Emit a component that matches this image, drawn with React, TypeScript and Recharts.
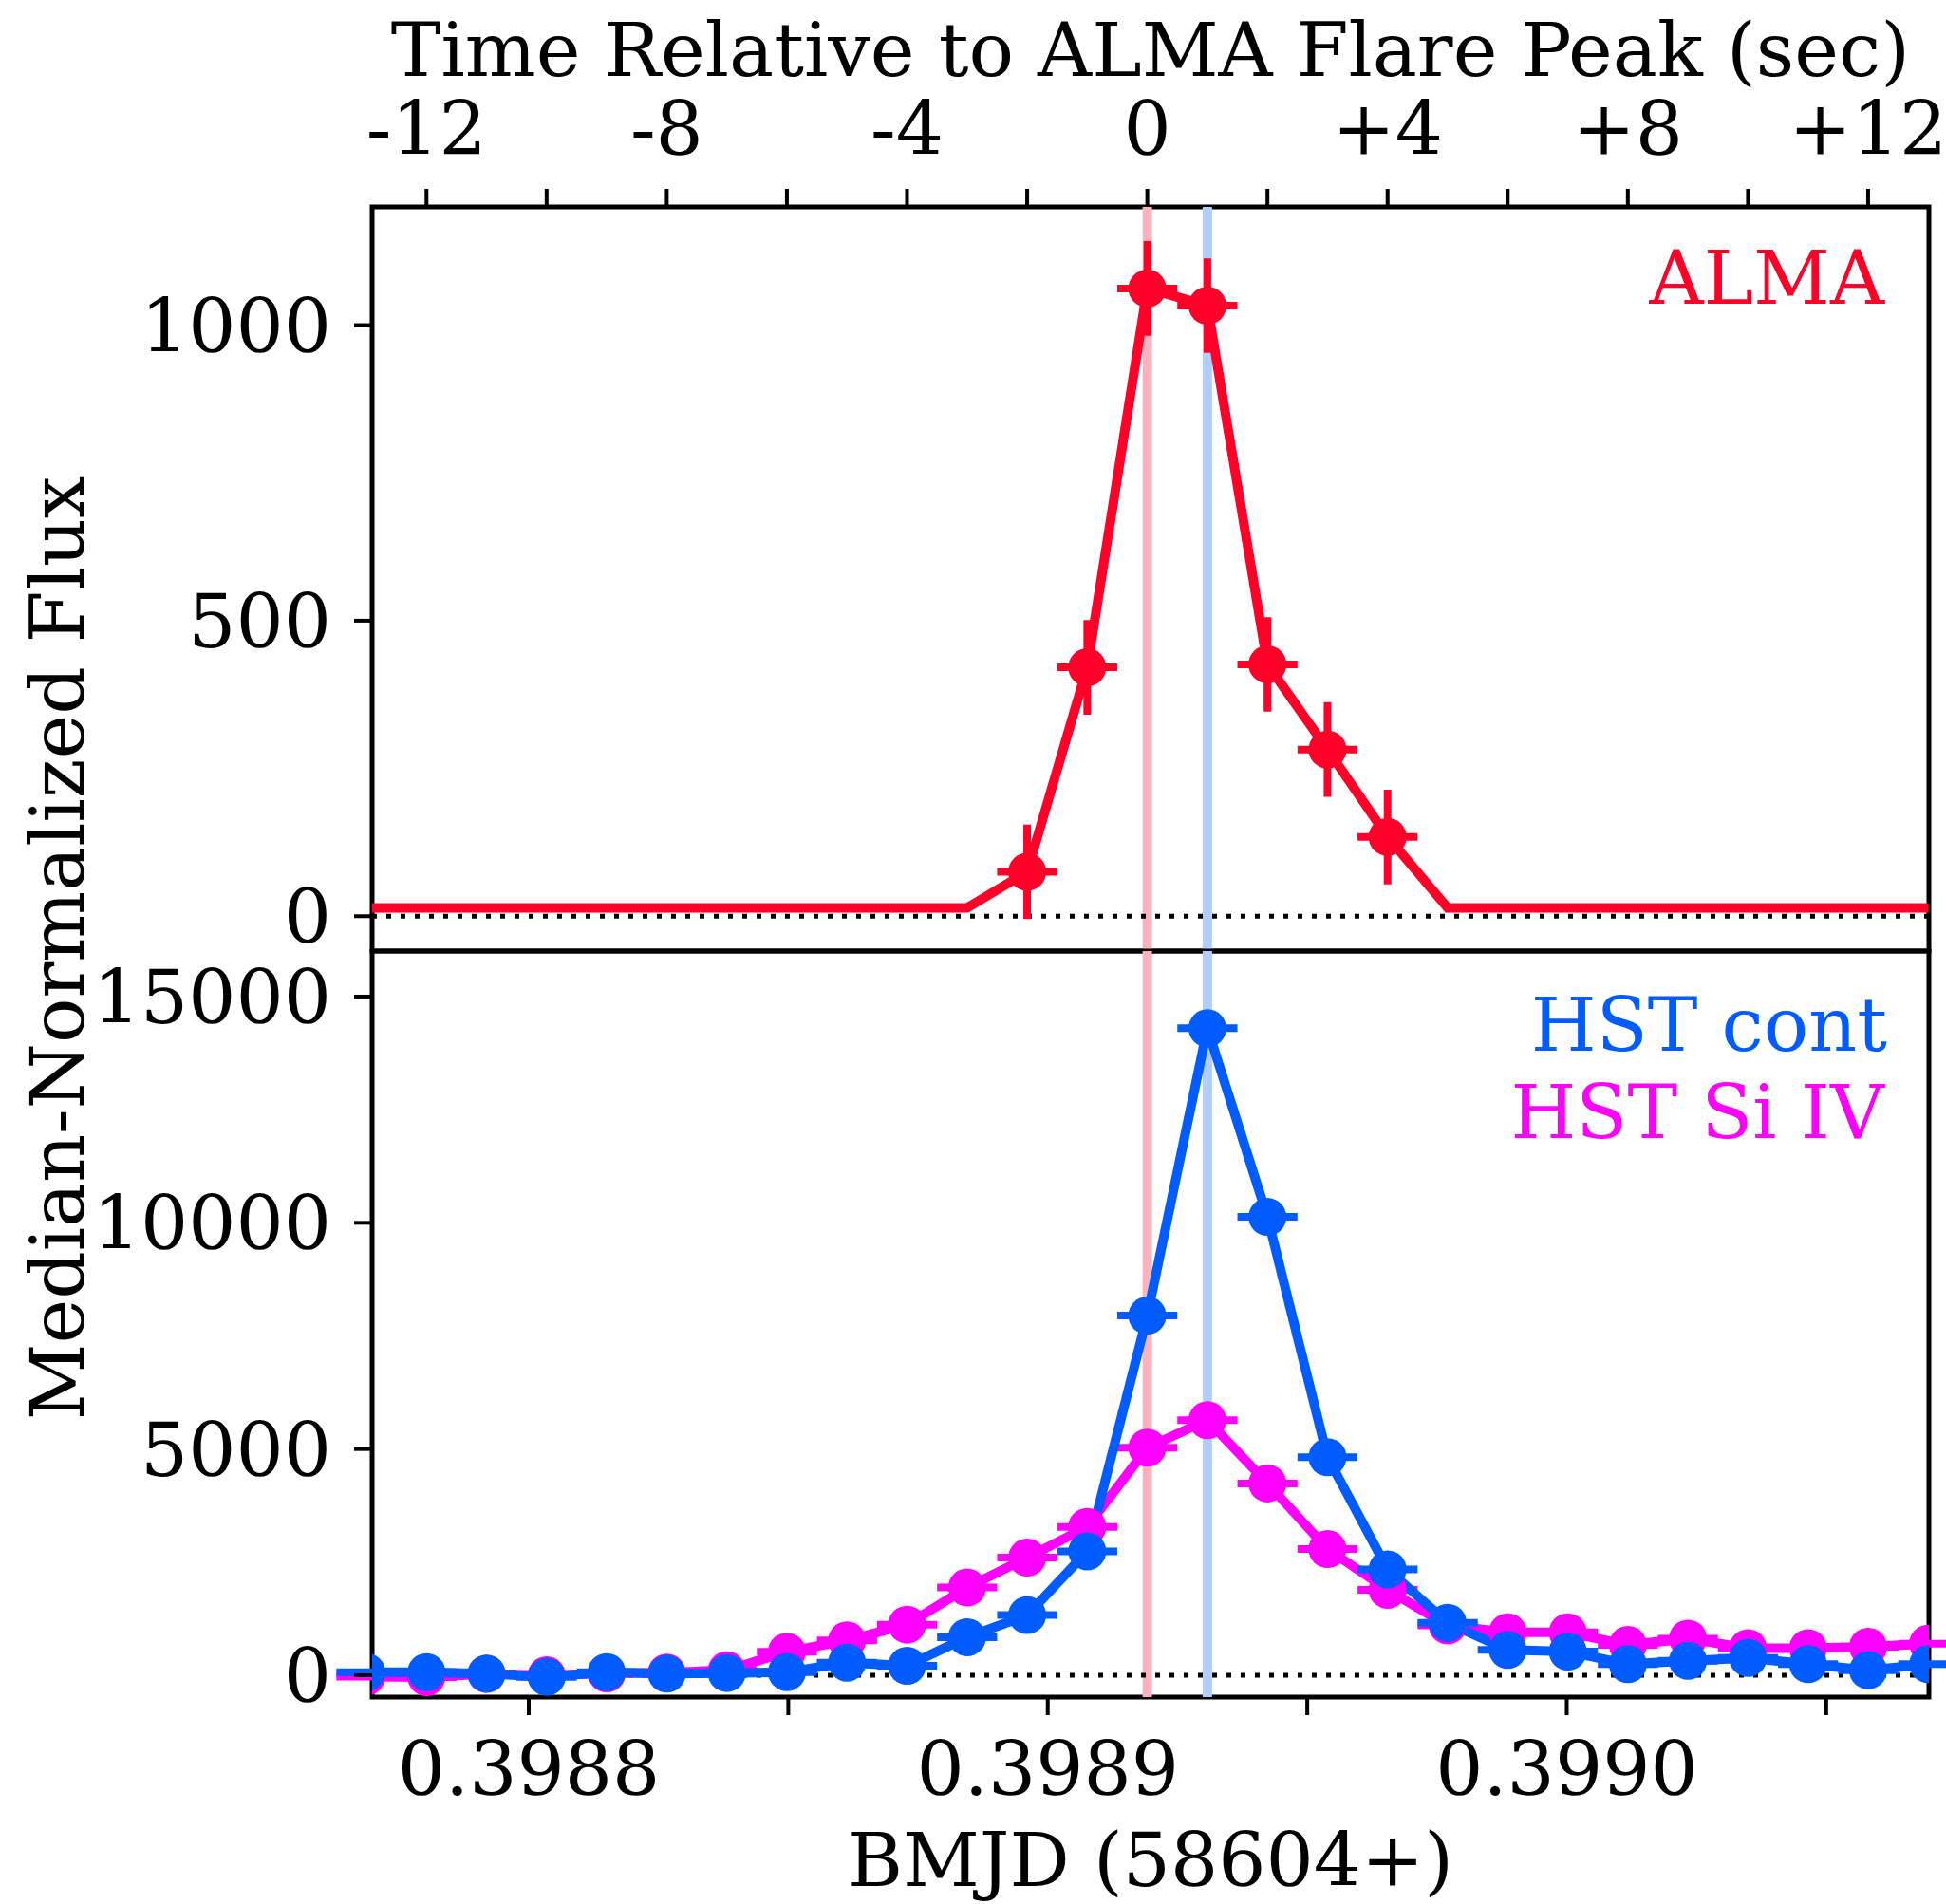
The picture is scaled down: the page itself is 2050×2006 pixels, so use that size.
import React from 'react';
import {
  ComposedChart,
  Line,
  Scatter,
  XAxis,
  YAxis,
  ReferenceLine,
  ReferenceArea,
  ErrorBar,
} from 'recharts';

const FONT = '"DejaVu Serif", serif';
const RED = '#ff0028';
const BLUE = '#005cff';
const MAGENTA = '#ff00ff';
const PINK_LINE = '#fab4bf';
const BLUE_LINE = '#b0cfff';
const FS = 79;

// seconds relative to the ALMA flare peak, 1 s cadence
const times = [-13, -12, -11, -10, -9, -8, -7, -6, -5, -4, -3, -2, -1, 0, 1, 2, 3, 4, 5, 6, 7, 8, 9, 10, 11, 12, 13];

const almaFlux = [14, 14, 14, 14, 14, 14, 14, 14, 14, 14, 14, 75, 421, 1062, 1033, 426, 282, 134, 14, 14, 14, 14, 14, 14, 14, 14, 14];
const almaPeakTimes = [-2, -1, 0, 1, 2, 3, 4];
const almaErr = 80;

const hstCont = [70, 70, 35, -35, 70, 35, 50, 70, 280, 210, 840, 1330, 2740, 7950, 14300, 10130, 4820, 2340, 1160, 560, 525, 245, 320, 385, 245, 110, 245];
const hstSiIV = [-30, -40, 30, 0, 40, 60, 110, 520, 770, 1120, 1940, 2600, 3280, 5030, 5640, 4240, 2790, 1890, 1100, 950, 950, 670, 810, 600, 600, 630, 700];
const timeErr = 0.5; // seconds

// markers for the ALMA peak and the HST continuum peak
const almaPeakSec = 0;
const hstPeakSec = 1;

const topTicks = [-12, -10, -8, -6, -4, -2, 0, 2, 4, 6, 8, 10, 12];
const bmjdTicks = [0.3988, 0.39885, 0.3989, 0.39895, 0.399, 0.39905];
const almaYTicks = [0, 500, 1000];
const hstYTicks = [0, 5000, 10000, 15000];

const t0Bmjd = 0.39891918;
const secToBmjd = (s: number) => t0Bmjd + s / 86400;
const secDomain: [number, number] = [-12.905, 13.012];
const bmjdDomain: [number, number] = [secToBmjd(secDomain[0]), secToBmjd(secDomain[1])];
const almaYDomain: [number, number] = [-59, 1200];
const hstYDomain: [number, number] = [-482, 16006];

const almaRows = times.map((t, i) => ({ t, y: almaFlux[i], xe: timeErr, ye: almaErr }));
const almaPeakRows = almaRows.filter((r) => almaPeakTimes.includes(r.t));
const contRows = times.map((t, i) => ({ bmjd: secToBmjd(t), y: hstCont[i], xe: timeErr / 86400 }));
const siRows = times.map((t, i) => ({ bmjd: secToBmjd(t), y: hstSiIV[i], xe: timeErr / 86400 }));

const fmtSec = (v: number) => (v % 4 === 0 ? (v > 0 ? `+${v}` : `${v}`) : '');
const fmtBmjd = (v: number) => (Math.round(v * 1e5) % 10 === 0 ? v.toFixed(4) : '');

const tickStyle = { fontSize: FS, fill: '#000', fontFamily: FONT };
const tickLineStyle = { stroke: '#000', strokeWidth: 4 };

const dot = (color: string) => (p: any) => <circle cx={p.cx} cy={p.cy} r={20} fill={color} />;

export default function App() {
  return (
    <div style={{ position: 'absolute', left: 0, top: 0, width: 2050, height: 2006, background: '#fff', fontFamily: FONT }}>
      {/* ALMA panel */}
      <div style={{ position: 'absolute', left: 0, top: 0 }}>
        <ComposedChart width={2050} height={1040} margin={{ top: 0, right: 18, bottom: 38, left: 0 }}>
          <XAxis
            dataKey="t"
            type="number"
            orientation="top"
            domain={secDomain}
            allowDataOverflow
            ticks={topTicks}
            interval={0}
            tickFormatter={fmtSec}
            height={218}
            tickSize={19}
            tickMargin={36}
            axisLine={false}
            tickLine={tickLineStyle}
            tick={tickStyle}
            label={{ value: 'Time Relative to ALMA Flare Peak (sec)', position: 'insideTop', offset: 24, fontSize: FS, fill: '#000' }}
          />
          <YAxis
            type="number"
            domain={almaYDomain}
            allowDataOverflow
            ticks={almaYTicks}
            interval={0}
            width={392}
            tickSize={19}
            tickMargin={24}
            axisLine={false}
            tickLine={tickLineStyle}
            tick={tickStyle}
          />
          <ReferenceLine x={almaPeakSec} stroke={PINK_LINE} strokeWidth={10} />
          <ReferenceLine x={hstPeakSec} stroke={BLUE_LINE} strokeWidth={10} />
          <ReferenceLine y={0} stroke="#000" strokeWidth={5} strokeDasharray="5 10" />
          <Line data={almaRows} dataKey="y" stroke={RED} strokeWidth={10} dot={false} isAnimationActive={false} />
          <Scatter data={almaPeakRows} dataKey="y" fill={RED} shape={dot(RED)} isAnimationActive={false}>
            <ErrorBar dataKey="xe" direction="x" width={0} stroke={RED} strokeWidth={8} />
            <ErrorBar dataKey="ye" direction="y" width={0} stroke={RED} strokeWidth={8} />
          </Scatter>
          <ReferenceArea
            x1={secDomain[0]}
            x2={secDomain[1]}
            y1={almaYDomain[0]}
            y2={almaYDomain[1]}
            fill="none"
            stroke="#000"
            strokeWidth={5}
            ifOverflow="visible"
          />
        </ComposedChart>
      </div>

      {/* HST panel */}
      <div style={{ position: 'absolute', left: 0, top: 0 }}>
        <ComposedChart width={2050} height={2006} margin={{ top: 1002, right: 18, bottom: 0, left: 0 }}>
          <XAxis
            dataKey="bmjd"
            type="number"
            domain={bmjdDomain}
            allowDataOverflow
            ticks={bmjdTicks}
            interval={0}
            tickFormatter={fmtBmjd}
            height={218}
            tickSize={19}
            tickMargin={28}
            axisLine={false}
            tickLine={tickLineStyle}
            tick={tickStyle}
            label={{ value: 'BMJD (58604+)', position: 'insideBottom', offset: 19, fontSize: FS, fill: '#000' }}
          />
          <YAxis
            type="number"
            domain={hstYDomain}
            allowDataOverflow
            ticks={hstYTicks}
            interval={0}
            width={392}
            tickSize={19}
            tickMargin={24}
            axisLine={false}
            tickLine={tickLineStyle}
            tick={tickStyle}
          />
          <ReferenceLine x={secToBmjd(almaPeakSec)} stroke={PINK_LINE} strokeWidth={10} />
          <ReferenceLine x={secToBmjd(hstPeakSec)} stroke={BLUE_LINE} strokeWidth={10} />
          <ReferenceLine y={0} stroke="#000" strokeWidth={5} strokeDasharray="5 10" />
          <Line data={siRows} dataKey="y" stroke={MAGENTA} strokeWidth={10} dot={false} isAnimationActive={false} />
          <Scatter data={siRows} dataKey="y" fill={MAGENTA} shape={dot(MAGENTA)} isAnimationActive={false}>
            <ErrorBar dataKey="xe" direction="x" width={0} stroke={MAGENTA} strokeWidth={8} />
          </Scatter>
          <Line data={contRows} dataKey="y" stroke={BLUE} strokeWidth={10} dot={false} isAnimationActive={false} />
          <Scatter data={contRows} dataKey="y" fill={BLUE} shape={dot(BLUE)} isAnimationActive={false}>
            <ErrorBar dataKey="xe" direction="x" width={0} stroke={BLUE} strokeWidth={8} />
          </Scatter>
          <ReferenceArea
            x1={bmjdDomain[0]}
            x2={bmjdDomain[1]}
            y1={hstYDomain[0]}
            y2={hstYDomain[1]}
            fill="none"
            stroke="#000"
            strokeWidth={5}
            ifOverflow="visible"
          />
        </ComposedChart>
      </div>

      {/* shared y label and panel labels */}
      <svg width={2050} height={2006} style={{ position: 'absolute', left: 0, top: 0, pointerEvents: 'none' }}>
        <text x={88} y={999} transform="rotate(-90 88 999)" textAnchor="middle" fontSize={FS} fill="#000" fontFamily={FONT}>
          Median-Normalized Flux
        </text>
        <text x={1985} y={320} textAnchor="end" fontSize={FS} fill={RED} fontFamily={FONT}>ALMA</text>
        <text x={1988} y={1107} textAnchor="end" fontSize={FS} fill={BLUE} fontFamily={FONT}>HST cont</text>
        <text x={1985} y={1199} textAnchor="end" fontSize={FS} fill={MAGENTA} fontFamily={FONT}>HST Si IV</text>
      </svg>
    </div>
  );
}
